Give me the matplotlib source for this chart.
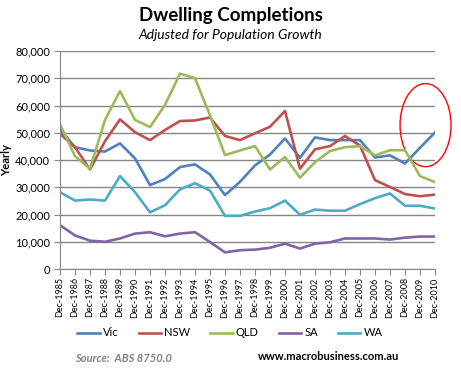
import matplotlib
matplotlib.use("Agg")
import matplotlib.pyplot as plt
from matplotlib.patches import Ellipse
from matplotlib.ticker import FuncFormatter

plt.rcParams["font.family"] = ["Lato", "DejaVu Sans"]

years = list(range(1985, 2011))
labels = [f"Dec-{y}" for y in years]

vic = [51200, 44700, 43500, 43100, 46100, 40600, 30800, 33000, 37400, 38400,
       34700, 27100, 32000, 38000, 42000, 47900, 40800, 48300, 47300, 47300,
       47300, 40900, 41700, 38700, 44500, 50100]
nsw = [49600, 44700, 36500, 46900, 54900, 50200, 47300, 51000, 54300, 54500,
       55600, 48800, 47300, 49800, 52200, 58000, 36800, 43900, 45100, 48800,
       45300, 32600, 30100, 27500, 26700, 27300]
qld = [53100, 41400, 36800, 54700, 65300, 54700, 52100, 60200, 71700, 70000,
       56400, 41800, 43500, 45100, 36500, 41100, 33500, 39200, 43300, 44700,
       45100, 41700, 43600, 43600, 34100, 31900]
sa = [16100, 12300, 10400, 10000, 11200, 13000, 13500, 12000, 13000, 13500,
      9900, 6100, 6900, 7100, 7800, 9300, 7500, 9300, 9800, 11200,
      11200, 11200, 10800, 11500, 11900, 11900]
wa = [28200, 25100, 25500, 25100, 34100, 28200, 20800, 23400, 29200, 31500,
      28800, 19500, 19500, 21100, 22300, 25100, 19900, 21800, 21400, 21400,
      23800, 26000, 27700, 23200, 23200, 22200]

series = [("Vic", vic, "#4F81BD"), ("NSW", nsw, "#C0504D"), ("QLD", qld, "#9BBB59"),
          ("SA", sa, "#8064A2"), ("WA", wa, "#4BACC6")]

fig = plt.figure(figsize=(4.61, 3.68), dpi=100)
ax = fig.add_axes([60 / 461, 1 - 269 / 368, 375 / 461, 218 / 368])

for name, vals, col in series:
    ax.plot(years, vals, color=col, lw=1.9, label=name)

ax.set_xlim(1985, 2010)
ax.set_ylim(0, 80000)
ax.set_yticks(range(0, 80001, 10000))
ax.yaxis.set_major_formatter(FuncFormatter(lambda v, p: f"{int(v):,}"))
ax.set_xticks(years)
ax.set_xticklabels(labels, rotation=90, fontsize=6.5)
ax.tick_params(axis="y", labelsize=8, length=4, color="#868686", pad=3)
ax.tick_params(axis="x", length=4, color="#868686", pad=2)
ax.grid(axis="y", color="#868686", lw=1)
ax.set_axisbelow(True)
for s in ["top", "right"]:
    ax.spines[s].set_visible(False)
for s in ["left", "bottom"]:
    ax.spines[s].set_color("#868686")
ax.set_ylabel("Yearly", fontsize=8, fontweight="bold", labelpad=2)

# red circle highlighting the recent Vic rise
ax.add_patch(Ellipse((2009.37, 52800), 3.4, 30500, fill=False,
                     edgecolor="red", lw=1, clip_on=False))

fig.text(0.5, 1 - 15 / 368, "Dwelling Completions", ha="center", va="center",
         fontsize=13.5, fontweight="bold")
fig.text(0.5, 1 - 35 / 368, "Adjusted for Population Growth", ha="center",
         va="center", fontsize=10, style="italic")

fig.legend(loc="center", bbox_to_anchor=(230 / 461, 1 - 333 / 368), ncol=5,
           frameon=False, fontsize=8, handlelength=2, columnspacing=1.8,
           handletextpad=0.3)

fig.text(75 / 461, 1 - 358 / 368, "Source:  ABS 8750.0", ha="left", va="center",
         fontsize=8, style="italic", fontweight="bold", color="#808080")
fig.text(258 / 461, 1 - 357 / 368, "www.macrobusiness.com.au", ha="left",
         va="center", fontsize=8, fontweight="bold")

fig.savefig("out.png", dpi=100)
